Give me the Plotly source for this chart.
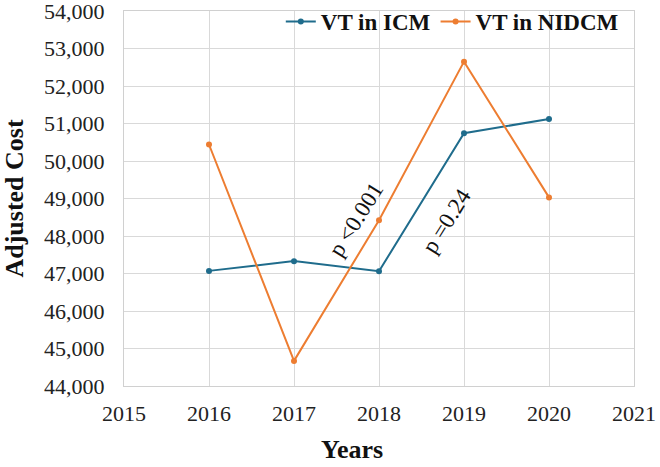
import plotly.graph_objects as go

years = [2016, 2017, 2018, 2019, 2020]
icm = [47070, 47330, 47060, 50740, 51120]
nidcm = [50440, 44670, 48420, 52650, 49030]
x_ticks = [2015, 2016, 2017, 2018, 2019, 2020, 2021]
y_ticks = list(range(44000, 54001, 1000))

BLUE = "#1F6C8C"
ORANGE = "#ED7D31"
FONT = "Liberation Serif"

fig = go.Figure()
fig.add_trace(go.Scatter(x=years, y=icm, mode="lines+markers", name="<b>VT in ICM</b>",
                         line=dict(color=BLUE, width=2), marker=dict(size=6, color=BLUE)))
fig.add_trace(go.Scatter(x=years, y=nidcm, mode="lines+markers", name="<b>VT in NIDCM</b>",
                         line=dict(color=ORANGE, width=2), marker=dict(size=6, color=ORANGE)))

fig.add_annotation(x=2017.73, y=48440, text="p <0.001", textangle=-58, showarrow=False,
                   font=dict(family=FONT, size=23, color="#111"))
fig.add_annotation(x=2018.79, y=48400, text="p =0.24", textangle=-58, showarrow=False,
                   font=dict(family=FONT, size=23, color="#111"))
fig.add_annotation(x=0.447, xref="paper", y=-0.17, yref="paper", text="<b>Years</b>",
                   showarrow=False, xanchor="center", yanchor="middle",
                   font=dict(family=FONT, size=26, color="#111"))

fig.update_layout(
    width=660, height=467,
    margin=dict(l=124, r=26, t=11, b=81, autoexpand=False),
    paper_bgcolor="white", plot_bgcolor="white",
    font=dict(family=FONT, size=22, color="#222"),
    showlegend=True,
    legend=dict(orientation="h", x=0.98, xanchor="right", y=0.972, yanchor="middle",
                bgcolor="rgba(0,0,0,0)", font=dict(family=FONT, size=23, color="#111"),
                itemwidth=30, tracegroupgap=0),
)
fig.update_xaxes(range=[2015, 2021], tickvals=x_ticks, ticktext=[str(v) for v in x_ticks],
                 showgrid=True, gridcolor="#d9d9d9", gridwidth=1, automargin=False,
                 showline=True, linecolor="#d0d0d0", mirror=True, zeroline=False,
                 ticks="", ticklabelstandoff=8, ticklabeloverflow="allow")
fig.update_yaxes(range=[44000, 54000], tickvals=y_ticks, tickformat=",",
                 showgrid=True, gridcolor="#d9d9d9", gridwidth=1, automargin=False,
                 showline=True, linecolor="#d0d0d0", mirror=True, zeroline=False,
                 ticks="", ticklabelstandoff=14, ticklabeloverflow="allow",
                 title=dict(text="<b>Adjusted Cost</b>", font=dict(family=FONT, size=26, color="#111"), standoff=12))

fig.write_html("out.html")
